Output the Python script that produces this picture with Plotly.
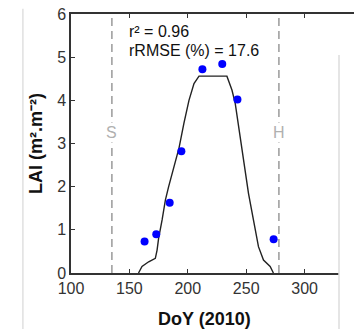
import plotly.graph_objects as go

# Observed LAI (points)
obs_doy = [163, 173, 184.5, 194.5, 212.5, 229.5, 242.5, 273.5]
obs_lai = [0.73, 0.90, 1.63, 2.82, 4.72, 4.84, 4.02, 0.78]

# Simulated LAI (curve)
sim_doy = [157.8, 160.8, 166.5, 172.2, 173.7, 175, 178, 180.8, 183.6, 186.5, 189.3,
           192.5, 196.7, 201, 205.3, 209.6, 233.5, 237.8, 240.6, 243.4, 247.7,
           252, 256.2, 260.5, 264.8, 270.5, 273.3]
sim_lai = [0.0, 0.15, 0.26, 0.34, 0.53, 0.8, 1.23, 1.69, 2.0, 2.31, 2.58,
           2.9, 3.47, 4.0, 4.39, 4.56, 4.56, 4.24, 3.93, 3.39, 2.62,
           1.84, 1.23, 0.61, 0.30, 0.15, 0.0]

sowing_doy = 135
harvest_doy = 278
stats_lines = ["r² = 0.96", "rRMSE (%) = 17.6"]

x_ticks = [100, 150, 200, 250, 300]
y_ticks = [0, 1, 2, 3, 4, 5, 6]

fig = go.Figure()
fig.add_trace(go.Scatter(x=sim_doy, y=sim_lai, mode="lines",
                         line=dict(color="#222222", width=1.4), showlegend=False))
fig.add_trace(go.Scatter(x=obs_doy, y=obs_lai, mode="markers",
                         marker=dict(color="#0000ff", size=8), showlegend=False))

for xv in [sowing_doy, harvest_doy]:
    fig.add_shape(type="line", x0=xv, x1=xv, y0=0, y1=6, xref="x", yref="y",
                  line=dict(color="#a0a0a0", width=1.6, dash="8px,5px"))
fig.add_annotation(x=sowing_doy, y=3.25, text="S", showarrow=False, xref="x", yref="y",
                   bgcolor="white", font=dict(family="Liberation Sans", size=16, color="#b0b0b0"))
fig.add_annotation(x=harvest_doy, y=3.25, text="H", showarrow=False, xref="x", yref="y",
                   bgcolor="white", font=dict(family="Liberation Sans", size=16, color="#b0b0b0"))

fig.add_annotation(x=148, y=5.6, text=stats_lines[0], showarrow=False, xref="x", yref="y",
                   xanchor="left", font=dict(family="Liberation Sans", size=16, color="#111111"))
fig.add_annotation(x=148, y=5.15, text=stats_lines[1], showarrow=False, xref="x", yref="y",
                   xanchor="left", font=dict(family="Liberation Sans", size=16, color="#111111"))

# x-axis title, centred on the visible part of the axis
fig.add_annotation(x=0.47, y=-0.13, xref="paper", yref="paper", yanchor="top",
                   text="<b>DoY (2010)</b>", showarrow=False,
                   font=dict(family="Liberation Sans", size=18, color="#111111"))

# right-side white overlay (cropped screenshot) and faint borders
fig.add_shape(type="rect", xref="paper", yref="paper", x0=0.947, x1=1.1, y0=-0.3, y1=0.842,
              fillcolor="white", line=dict(width=0), layer="above")
fig.add_shape(type="line", xref="paper", yref="paper", x0=0.947, x1=0.947, y0=-0.3, y1=0.842,
              line=dict(color="#dddddd", width=1.5), layer="above")
fig.add_shape(type="line", xref="paper", yref="paper", x0=-0.17, x1=-0.17, y0=-0.3, y1=1.02,
              line=dict(color="#e0e0e0", width=1.5), layer="above")

fig.update_layout(
    width=354, height=329,
    margin=dict(l=71, r=0, t=14, b=56),
    paper_bgcolor="white", plot_bgcolor="white",
    font=dict(family="Liberation Sans", size=16, color="#333333"),
    xaxis=dict(range=[100, 342.3], tickvals=x_ticks, ticks="inside", ticklen=4,
               tickcolor="#333333", showline=True, linecolor="#333333", linewidth=1.5,
               mirror="ticks", showgrid=False, zeroline=False),
    yaxis=dict(range=[0, 6], tickvals=y_ticks, ticks="inside", ticklen=4,
               tickcolor="#333333", showline=True, linecolor="#333333", linewidth=1.5,
               showgrid=False, zeroline=False,
               title=dict(text="<b>LAI (m².m⁻²)</b>", font=dict(size=18, color="#111111"), standoff=10)),
)

fig.write_html("out.html")
